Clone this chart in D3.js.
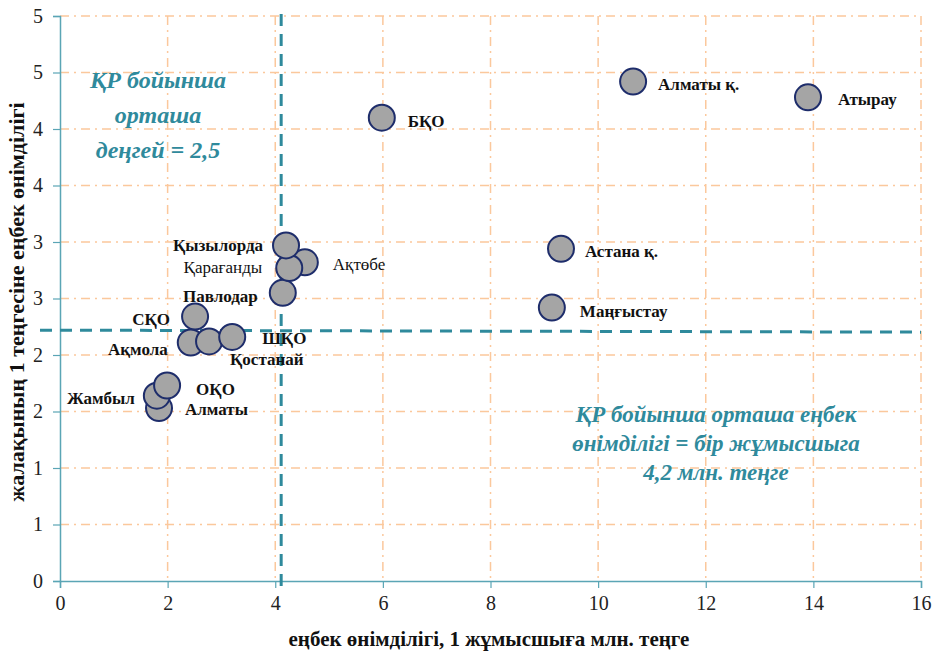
<!DOCTYPE html>
<html>
<head>
<meta charset="utf-8">
<script src="https://cdn.jsdelivr.net/npm/d3@7"></script>
<style>
  body { margin: 0; background: #fff; }
  svg, svg text { font-family: "Liberation Serif", Tinos, "Times New Roman", "DejaVu Serif", serif !important; }
</style>
</head>
<body>
<div id="chart"></div>
<script>
// data
let regions = ["Алматы", "Жамбыл", "ОҚО", "Ақмола", "Қостанай", "ШҚО", "СҚО",
               "Павлодар", "Ақтөбе", "Қарағанды", "Қызылорда", "БҚО",
               "Маңғыстау", "Астана қ.", "Атырау", "Алматы қ."];
let productivity = [1.84, 1.80, 1.99, 2.43, 2.77, 3.20, 2.51,
                    4.14, 4.55, 4.26, 4.20, 5.98,
                    9.14, 9.31, 13.90, 10.65];
let wageReturn = [1.53, 1.64, 1.73, 2.11, 2.12, 2.16, 2.34,
                  2.55, 2.82, 2.77, 2.97, 4.10,
                  2.42, 2.94, 4.28, 4.42];
let boldLabel = [1, 1, 1, 1, 1, 1, 1, 1, 0, 0, 1, 1, 1, 1, 1, 1];

let xTicks = [0, 2, 4, 6, 8, 10, 12, 14, 16];
let yTicks = [0, 0.5, 1, 1.5, 2, 2.5, 3, 3.5, 4, 4.5, 5];

let avgProductivity = 4.11; // drawn position of the vertical line
let avgLevel = 2.22;        // drawn position of the horizontal line

// label offsets from the point (px) and anchor
let labelPos = {
    "Алматы қ.": [25, 8, "start"],
    "Атырау": [30, 8, "start"],
    "БҚО": [26, 9, "start"],
    "Астана қ.": [24, 8, "start"],
    "Маңғыстау": [28, 9, "start"],
    "Қызылорда": [-23, 6, "end"],
    "Қарағанды": [-27, 5, "end"],
    "Ақтөбе": [28, 8, "start"],
    "Павлодар": [-25, 9, "end"],
    "СҚО": [-25, 8, "end"],
    "Ақмола": [-23, 12, "end"],
    "ШҚО": [30, 7, "start"],
    "Қостанай": [21, 24, "start"],
    "ОҚО": [29, 9, "start"],
    "Жамбыл": [-22, 8, "end"],
    "Алматы": [26, 7, "start"]
};

let win_width = 937, win_height = 655;
let margin = {top: 16, right: 16, bottom: 74, left: 60};
let width = win_width - margin.left - margin.right;
let height = win_height - margin.top - margin.bottom;

let teal = "#2f8a9c";
let axisColor = "#5aa5b5";
let gridColor = "#fbc89c";

let svg = d3.select("#chart")
    .append("svg")
    .attr("width", win_width)
    .attr("height", win_height);

let g = svg.append("g")
    .attr("transform", "translate(" + margin.left + "," + margin.top + ")");

let x = d3.scaleLinear().domain([0, 16]).range([0, width]);
let y = d3.scaleLinear().domain([0, 5]).range([height, 0]);

// grid
g.selectAll(".hgrid")
    .data(yTicks.filter(d => d > 0))
    .join("line")
    .attr("x1", 0).attr("x2", width)
    .attr("y1", d => y(d)).attr("y2", d => y(d))
    .attr("stroke", gridColor)
    .attr("stroke-width", 1.5)
    .attr("stroke-dasharray", "9,5,2,5");

g.selectAll(".vgrid")
    .data(xTicks.filter(d => d > 0))
    .join("line")
    .attr("x1", d => x(d)).attr("x2", d => x(d))
    .attr("y1", 0).attr("y2", height)
    .attr("stroke", gridColor)
    .attr("stroke-width", 1.5)
    .attr("stroke-dasharray", "9,5,2,5");

// axes
let xAxis = g.append("g")
    .attr("transform", "translate(0," + height + ")")
    .call(d3.axisBottom(x).tickValues(xTicks).tickSize(7).tickPadding(8).tickFormat(d3.format("d")));
let yAxis = g.append("g")
    .call(d3.axisLeft(y).tickValues(yTicks).tickSize(7).tickPadding(10)
        .tickFormat(d => Math.round(d + 1e-9)));

[xAxis, yAxis].forEach(function(a) {
    a.attr("font-family", null);
    a.select(".domain").attr("stroke", axisColor).attr("stroke-width", 1.5);
    a.selectAll(".tick line").attr("stroke", axisColor).attr("stroke-width", 1.2);
    a.selectAll(".tick text")
        .attr("fill", "#222")
        .style("font-size", "20px");
});

// average lines
g.append("line")
    .attr("x1", x(avgProductivity)).attr("x2", x(avgProductivity))
    .attr("y1", -2).attr("y2", height + 5)
    .attr("stroke", teal)
    .attr("stroke-width", 3)
    .attr("stroke-dasharray", "12,8");

g.append("line")
    .attr("x1", -20).attr("x2", width)
    .attr("y1", y(avgLevel)).attr("y2", y(avgLevel) + 2)
    .attr("stroke", teal)
    .attr("stroke-width", 3)
    .attr("stroke-dasharray", "12,8");

// points
let pts = regions.map((r, i) => ({name: r, px: productivity[i], py: wageReturn[i], bold: boldLabel[i]}));

g.selectAll(".pt")
    .data(pts)
    .join("circle")
    .attr("cx", d => x(d.px))
    .attr("cy", d => y(d.py))
    .attr("r", 13)
    .attr("fill", "#a5a5a5")
    .attr("stroke", "#1e2d6b")
    .attr("stroke-width", 2);

g.selectAll(".lbl")
    .data(pts)
    .join("text")
    .attr("x", d => x(d.px) + labelPos[d.name][0])
    .attr("y", d => y(d.py) + labelPos[d.name][1])
    .attr("text-anchor", d => labelPos[d.name][2])
    .attr("font-size", "17px")
    .attr("font-weight", d => d.bold ? "bold" : "normal")
    .attr("fill", "#111")
    .text(d => d.name);

// annotations
let note1 = ["ҚР бойынша", "орташа", "деңгей = 2,5"];
let note2 = ["ҚР бойынша орташа еңбек", "өнімділігі = бір жұмысшыга", "4,2 млн. теңге"];

g.append("text")
    .attr("text-anchor", "middle")
    .attr("font-size", "24px")
    .attr("font-weight", "bold")
    .attr("font-style", "italic")
    .attr("fill", teal)
    .selectAll("tspan")
    .data(note1)
    .join("tspan")
    .attr("x", 98)
    .attr("y", (d, i) => 72 + i * 35)
    .text(d => d);

g.append("text")
    .attr("text-anchor", "middle")
    .attr("font-size", "23px")
    .attr("font-weight", "bold")
    .attr("font-style", "italic")
    .attr("fill", teal)
    .selectAll("tspan")
    .data(note2)
    .join("tspan")
    .attr("x", 656)
    .attr("y", (d, i) => 406 + i * 29)
    .text(d => d);

// axis titles
svg.append("text")
    .attr("text-anchor", "middle")
    .attr("x", 489)
    .attr("y", 646)
    .attr("font-size", "21px")
    .attr("font-weight", "bold")
    .attr("fill", "#111")
    .text("еңбек өнімділігі,  1 жұмысшыға млн. теңге");

svg.append("text")
    .attr("text-anchor", "middle")
    .attr("transform", "translate(24,302) rotate(-90)")
    .attr("font-size", "22px")
    .attr("font-weight", "bold")
    .attr("fill", "#111")
    .text("жалақының 1 теңгесіне еңбек өнімділігі");
</script>
</body>
</html>
